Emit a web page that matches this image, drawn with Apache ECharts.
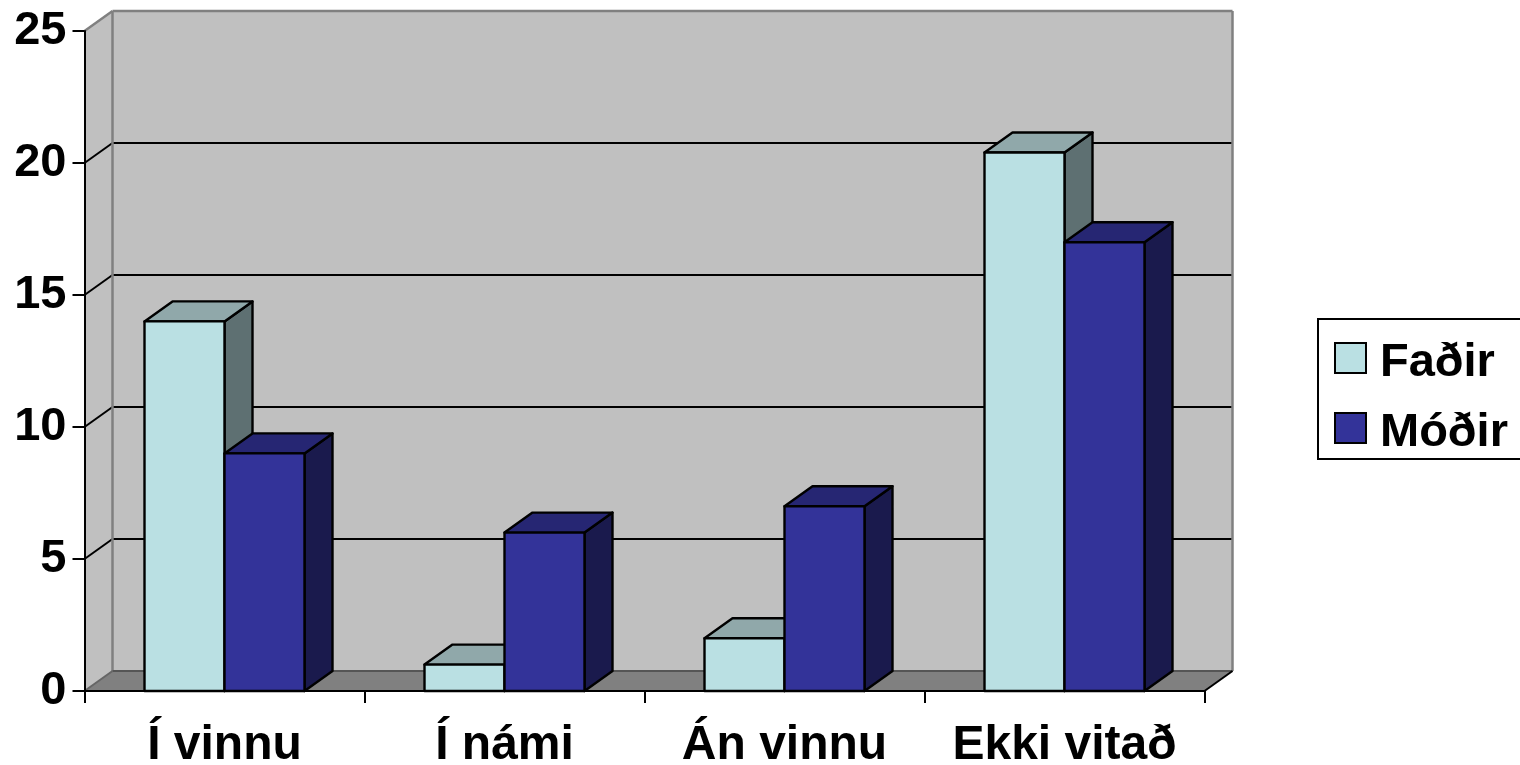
<!DOCTYPE html>
<html><head><meta charset="utf-8">
<style>html,body{margin:0;padding:0;background:#fff;overflow:hidden}#c{width:1520px;height:765px}</style>
<script src="https://cdn.jsdelivr.net/npm/echarts@6/dist/echarts.min.js"></script>
</head><body><div id="c"></div>
<script>
const categories = ['Í vinnu', 'Í námi', 'Án vinnu', 'Ekki vitað'];
const fadir = [14, 1, 2, 20.4];
const modir = [9, 6, 7, 17];
const yTicks = [0, 5, 10, 15, 20, 25];
const DX = 28, DY = -20;
const FONT = '"Liberation Sans", Arial, sans-serif';

function poly(points, fill, stroke, lw) {
  return { type: 'polygon', shape: { points }, style: { fill, stroke, lineWidth: lw, lineJoin: 'round' } };
}
function line(x1, y1, x2, y2, stroke, lw) {
  return { type: 'line', shape: { x1, y1, x2, y2 }, style: { stroke, lineWidth: lw, fill: null } };
}
function renderWalls(params, api) {
  const cs = params.coordSys;
  const l = cs.x, r = cs.x + cs.width, b = cs.y + cs.height, t = cs.y;
  const kids = [
    poly([[l, b], [l + DX, b + DY], [l + DX, t + DY], [l, t]], '#c0c0c0', null, 0),
    poly([[l + DX, b + DY], [r + DX, b + DY], [r + DX, t + DY], [l + DX, t + DY]], '#c0c0c0', null, 0),
    poly([[l, b], [r, b], [r + DX, b + DY], [l + DX, b + DY]], '#808080', null, 0)
  ];
  yTicks.slice(1, -1).forEach(v => {
    const y = api.coord([0, v])[1];
    kids.push(line(l, y, l + DX, y + DY, '#000', 2));
    kids.push(line(l + DX, y + DY, r + DX, y + DY, '#000', 2));
  });
  kids.push(line(l + DX, t + DY, r + DX, t + DY, '#808080', 2.5));
  kids.push(line(l, t, l + DX, t + DY, '#808080', 2.5));
  kids.push(line(l + DX, t + DY, l + DX, b + DY, '#808080', 2.5));
  kids.push(line(r + DX, t + DY, r + DX, b + DY, '#808080', 2.5));
  kids.push(line(l + DX, b + DY, r + DX, b + DY, '#555', 2));
  kids.push(line(l, b, l + DX, b + DY, '#666', 2));
  kids.push(line(r, b, r + DX, b + DY, '#000', 2));
  return { type: 'group', children: kids };
}
function barRenderer(offset, front, top, side) {
  return function (params, api) {
    const c = api.coord([api.value(0), api.value(1)]);
    const base = api.coord([api.value(0), 0]);
    const w = api.size([1, 0])[0] * 80 / 280;
    const x0 = c[0] + offset * w, x1 = x0 + w, y0 = c[1], y1 = base[1];
    const K = '#000', L = 2.4;
    return { type: 'group', children: [
      poly([[x1, y0], [x1 + DX, y0 + DY], [x1 + DX, y1 + DY], [x1, y1]], side, K, L),
      poly([[x0, y0], [x0 + DX, y0 + DY], [x1 + DX, y0 + DY], [x1, y0]], top, K, L),
      poly([[x0, y0], [x1, y0], [x1, y1], [x0, y1]], front, K, L)
    ] };
  };
}
const chart = echarts.init(document.getElementById('c'), null, { renderer: 'canvas' });
chart.setOption({
  animation: false,
  backgroundColor: '#fff',
  grid: { left: 84.5, right: 1520 - 1204.5, top: 31, bottom: 74, outerBoundsMode: 'none' },
  legend: {
    left: 1318, top: 319, orient: 'vertical',
    data: ['Faðir', 'Móðir'],
    icon: 'rect', itemWidth: 31, itemHeight: 30, itemGap: 23, padding: [20.5, 40, 2.5, 16],
    backgroundColor: '#fff', borderColor: '#000', borderWidth: 2, borderRadius: 0,
    selectedMode: false,
    formatter: '{t|{name}}',
    textStyle: { fontFamily: FONT, fontWeight: 'bold', fontSize: 47, color: '#000',
      rich: { t: { fontFamily: FONT, fontWeight: 'bold', fontSize: 47, color: '#000', padding: [10, 0, 0, 9] } } }
  },
  xAxis: {
    type: 'category', data: categories, boundaryGap: true, z: 10,
    axisLine: { lineStyle: { color: '#000', width: 2 } },
    axisTick: { show: true, length: 12, alignWithLabel: false, lineStyle: { color: '#000', width: 2 } },
    axisLabel: { fontFamily: FONT, fontWeight: 'bold', fontSize: 48, color: '#000', margin: 31, interval: 0 },
    splitLine: { show: false }
  },
  yAxis: {
    type: 'value', min: 0, max: 25, interval: 5, z: 10,
    axisLine: { show: true, lineStyle: { color: '#000', width: 2 } },
    axisTick: { show: true, length: 12, lineStyle: { color: '#000', width: 2 } },
    axisLabel: { fontFamily: FONT, fontWeight: 'bold', fontSize: 47, color: '#000', margin: 18, padding: [2, 0, 0, 0] },
    splitLine: { show: false }
  },
  series: [
    { type: 'custom', name: 'walls', z: 1, silent: true, renderItem: renderWalls, data: [[0, 0]], encode: { x: 0, y: 1 } },
    { type: 'custom', name: 'Faðir', z: 2, silent: true, itemStyle: { color: '#bae0e3', borderColor: '#000', borderWidth: 2 },
      renderItem: barRenderer(-1, '#bae0e3', '#90a8aa', '#5e7072'),
      data: fadir.map((v, i) => [i, v]), encode: { x: 0, y: 1 } },
    { type: 'custom', name: 'Móðir', z: 3, silent: true, itemStyle: { color: '#333399', borderColor: '#000', borderWidth: 2 },
      renderItem: barRenderer(0, '#333399', '#262673', '#1a1a4d'),
      data: modir.map((v, i) => [i, v]), encode: { x: 0, y: 1 } }
  ]
});
</script></body></html>
